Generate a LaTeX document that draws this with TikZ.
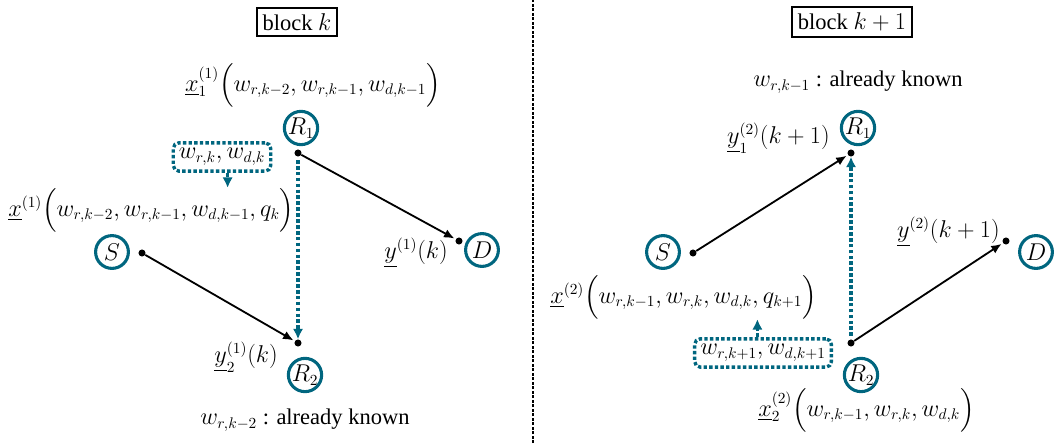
\documentclass[tikz,border=0pt]{standalone}
\usepackage{amsmath}
\usepackage{fontspec}
\setmainfont{Liberation Serif}
\usetikzlibrary{arrows.meta,calc,positioning}
\definecolor{Petrol}{HTML}{00667F}

\begin{document}
\begin{tikzpicture}[font=\rmfamily\fontsize{16}{19}\selectfont,
      station/.style={circle,draw=Petrol,line width=2.2pt,minimum size=0.82cm,inner sep=0pt},
      tip/.style={circle,fill=black,minimum size=5pt,inner sep=0pt},
      blockbox/.style={draw,line width=1.5pt,inner sep=4pt},
      infobox/.style={draw=Petrol,line width=2.4pt,dash pattern=on 2.4pt off 1.6pt,rounded corners=4pt,inner sep=4pt},
      arr/.style={-{Latex[length=2.6mm,width=2.2mm]},line width=1.3pt,shorten >=1pt},
      flow/.style={-{Latex[length=2.6mm,width=2.6mm]},draw=Petrol,line width=2.6pt,dash pattern=on 2.6pt off 1.6pt}]
      \useasboundingbox (0,0) rectangle (26.45,11.075);
      % block k
      \node[blockbox] (blkL) at (7.425,10.525) {block $k$};
      \node (x1L) at (7.825,8.95) {$\underline{x}_1^{(1)}\Bigl(w_{r,k-2},w_{r,k-1},w_{d,k-1}\Bigr)$};
      \node[station] (R1L) at (7.525,7.875) {$R_1$};
      \node[station] (R2L) at (7.625,1.7) {$R_2$};
      \node[station] (SL) at (2.8,4.775) {$S$};
      \node[station] (DL) at (12.05,4.825) {$D$};
      \node[tip] (r1L) at (7.45,7.25) {};
      \node[tip] (r2L) at (7.45,2.5) {};
      \node[tip] (sL) at (3.55,4.75) {};
      \node[tip] (dL) at (11.475,5.05) {};
      \node[infobox] (infL) at (5.55,7.15) {$w_{r,k},w_{d,k}$};
      \node[anchor=west,inner sep=0pt] (xL) at (0.2,5.825) {$\underline{x}^{(1)}\Bigl(w_{r,k-2},w_{r,k-1},w_{d,k-1},q_k\Bigr)$};
      \node[anchor=east,inner sep=0pt] (yL) at (11.2,4.75) {$\underline{y}^{(1)}(k)$};
      \node[anchor=east,inner sep=0pt] (y2L) at (6.95,2.15) {$\underline{y}_2^{(1)}(k)$};
      \node (knL) at (7.625,0.575) {$w_{r,k-2}$ : already known};
      \draw[arr] (r1L) -- (dL);
      \draw[arr] (sL) -- (r2L);
      \draw[flow] ([yshift=-5pt]r1L.center) -- (r2L.north);
      \draw[flow] ([xshift=4pt]infL.south) -- ([xshift=4pt]infL.south |- xL.north);
      % divider
      \draw[line width=2pt,dash pattern=on 2pt off 1.2pt] (13.325,0) -- (13.325,11.075);
      % block k+1
      \node[blockbox] (blkR) at (21.3,10.525) {block $k+1$};
      \node (knR) at (21.45,9.025) {$w_{r,k-1}$ : already known};
      \node[station] (R1R) at (21.45,7.875) {$R_1$};
      \node[station] (R2R) at (21.525,1.7) {$R_2$};
      \node[station] (SR) at (16.575,4.775) {$S$};
      \node[station] (DR) at (25.9,4.775) {$D$};
      \node[tip] (r1R) at (21.275,7.25) {};
      \node[tip] (r2R) at (21.275,2.5) {};
      \node[tip] (sR) at (17.325,4.75) {};
      \node[tip] (dR) at (25.15,5.05) {};
      \node[anchor=east,inner sep=0pt] (y1R) at (20.75,7.62) {$\underline{y}_1^{(2)}(k+1)$};
      \node[anchor=west,inner sep=0pt] (xR) at (13.75,3.65) {$\underline{x}^{(2)}\Bigl(w_{r,k-1},w_{r,k},w_{d,k},q_{k+1}\Bigr)$};
      \node[infobox] (infR) at (19.075,2.25) {$w_{r,k+1},w_{d,k+1}$};
      \node[anchor=east,inner sep=0pt] (yR) at (25.0,5.275) {$\underline{y}^{(2)}(k+1)$};
      \node[anchor=west,inner sep=0pt] (x2R) at (18.95,0.825) {$\underline{x}_2^{(2)}\Bigl(w_{r,k-1},w_{r,k},w_{d,k}\Bigr)$};
      \draw[arr] (sR) -- (r1R);
      \draw[arr] (r2R) -- (dR);
      \draw[flow] ([yshift=5pt]r2R.center) -- (r1R.south);
      \draw[flow] ([xshift=-4pt]infR.north) -- ([xshift=-4pt]infR.north |- xR.south);
    \end{tikzpicture}
\end{document}
